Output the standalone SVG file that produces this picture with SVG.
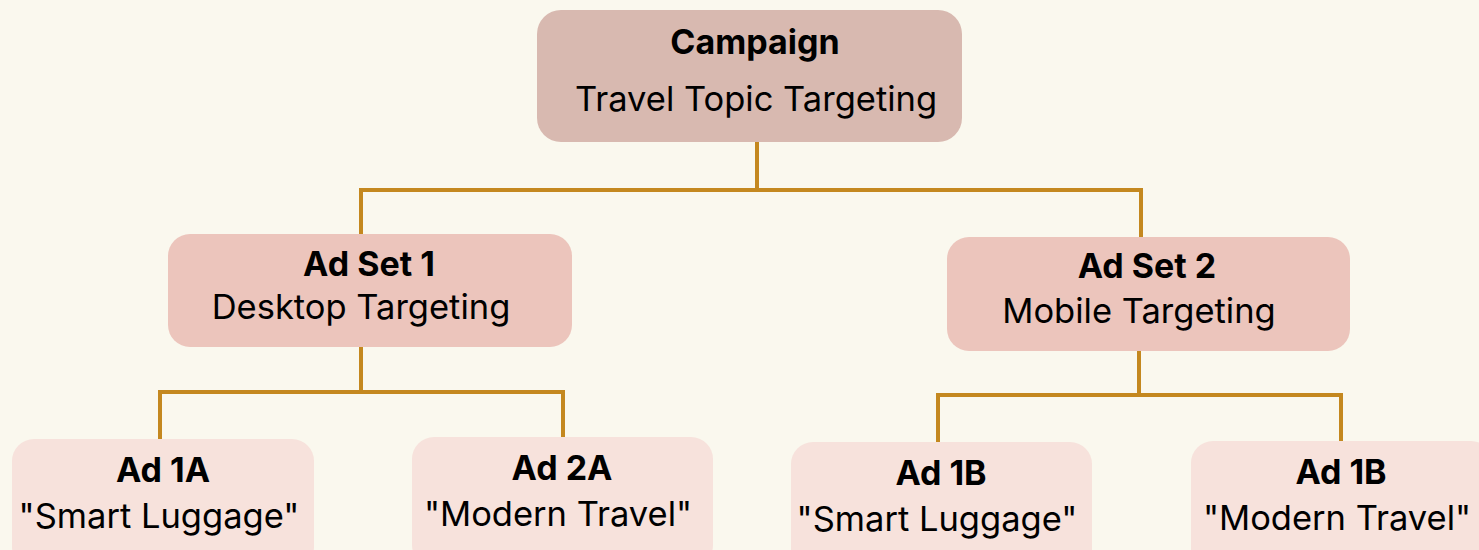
<svg xmlns="http://www.w3.org/2000/svg" width="1479" height="550" viewBox="0 0 1479 550">
<style>
.t{font-family:Inter,"Noto Sans",sans-serif;fill:#000;text-anchor:middle}
.b{font-weight:700;font-size:34px}
.r{font-weight:400;font-size:34.5px}
.c{fill:#d8b9b0}
.s{fill:#ecc5bc}
.a{fill:#f7e2dc}
.ln{fill:none;stroke:#c4881f;stroke-width:4}
</style>
<rect width="1479" height="550" fill="#faf8ee"/>
<g id="connectors">
<polyline class="ln" points="757,142 757,190"/>
<polyline class="ln" points="361,236 361,190 1141,190 1141,238"/>
<polyline class="ln" points="361,347 361,392"/>
<polyline class="ln" points="160,440 160,392 563,392 563,438"/>
<polyline class="ln" points="1139,351 1139,395"/>
<polyline class="ln" points="938,443 938,395 1341,395 1341,442"/>
</g>
<g id="campaign">
<rect class="c" x="537" y="10" width="425" height="132" rx="24"/>
<text class="t b" x="755" y="54">Campaign</text>
<text class="t r" x="756" y="111">Travel Topic Targeting</text>
</g>
<g id="adset1">
<rect class="s" x="168" y="234" width="404" height="113" rx="22"/>
<text class="t b" x="369" y="276">Ad Set 1</text>
<text class="t r" x="361" y="319">Desktop Targeting</text>
</g>
<g id="adset2">
<rect class="s" x="947" y="237" width="403" height="114" rx="22"/>
<text class="t b" x="1147" y="278">Ad Set 2</text>
<text class="t r" x="1139" y="323">Mobile Targeting</text>
</g>
<g id="ad1a">
<rect class="a" x="12" y="439" width="302" height="130" rx="22"/>
<text class="t b" x="163" y="482">Ad 1A</text>
<text class="t r" x="159" y="528">"Smart Luggage"</text>
</g>
<g id="ad2a">
<rect class="a" x="412" y="437" width="301" height="130" rx="22"/>
<text class="t b" x="562" y="480">Ad 2A</text>
<text class="t r" x="558" y="526">"Modern Travel"</text>
</g>
<g id="ad1b">
<rect class="a" x="791" y="442" width="301" height="130" rx="22"/>
<text class="t b" x="941" y="485">Ad 1B</text>
<text class="t r" x="937" y="531">"Smart Luggage"</text>
</g>
<g id="ad1b2">
<rect class="a" x="1191" y="441" width="302" height="130" rx="22"/>
<text class="t b" x="1341" y="484">Ad 1B</text>
<text class="t r" x="1337" y="530">"Modern Travel"</text>
</g>
</svg>
